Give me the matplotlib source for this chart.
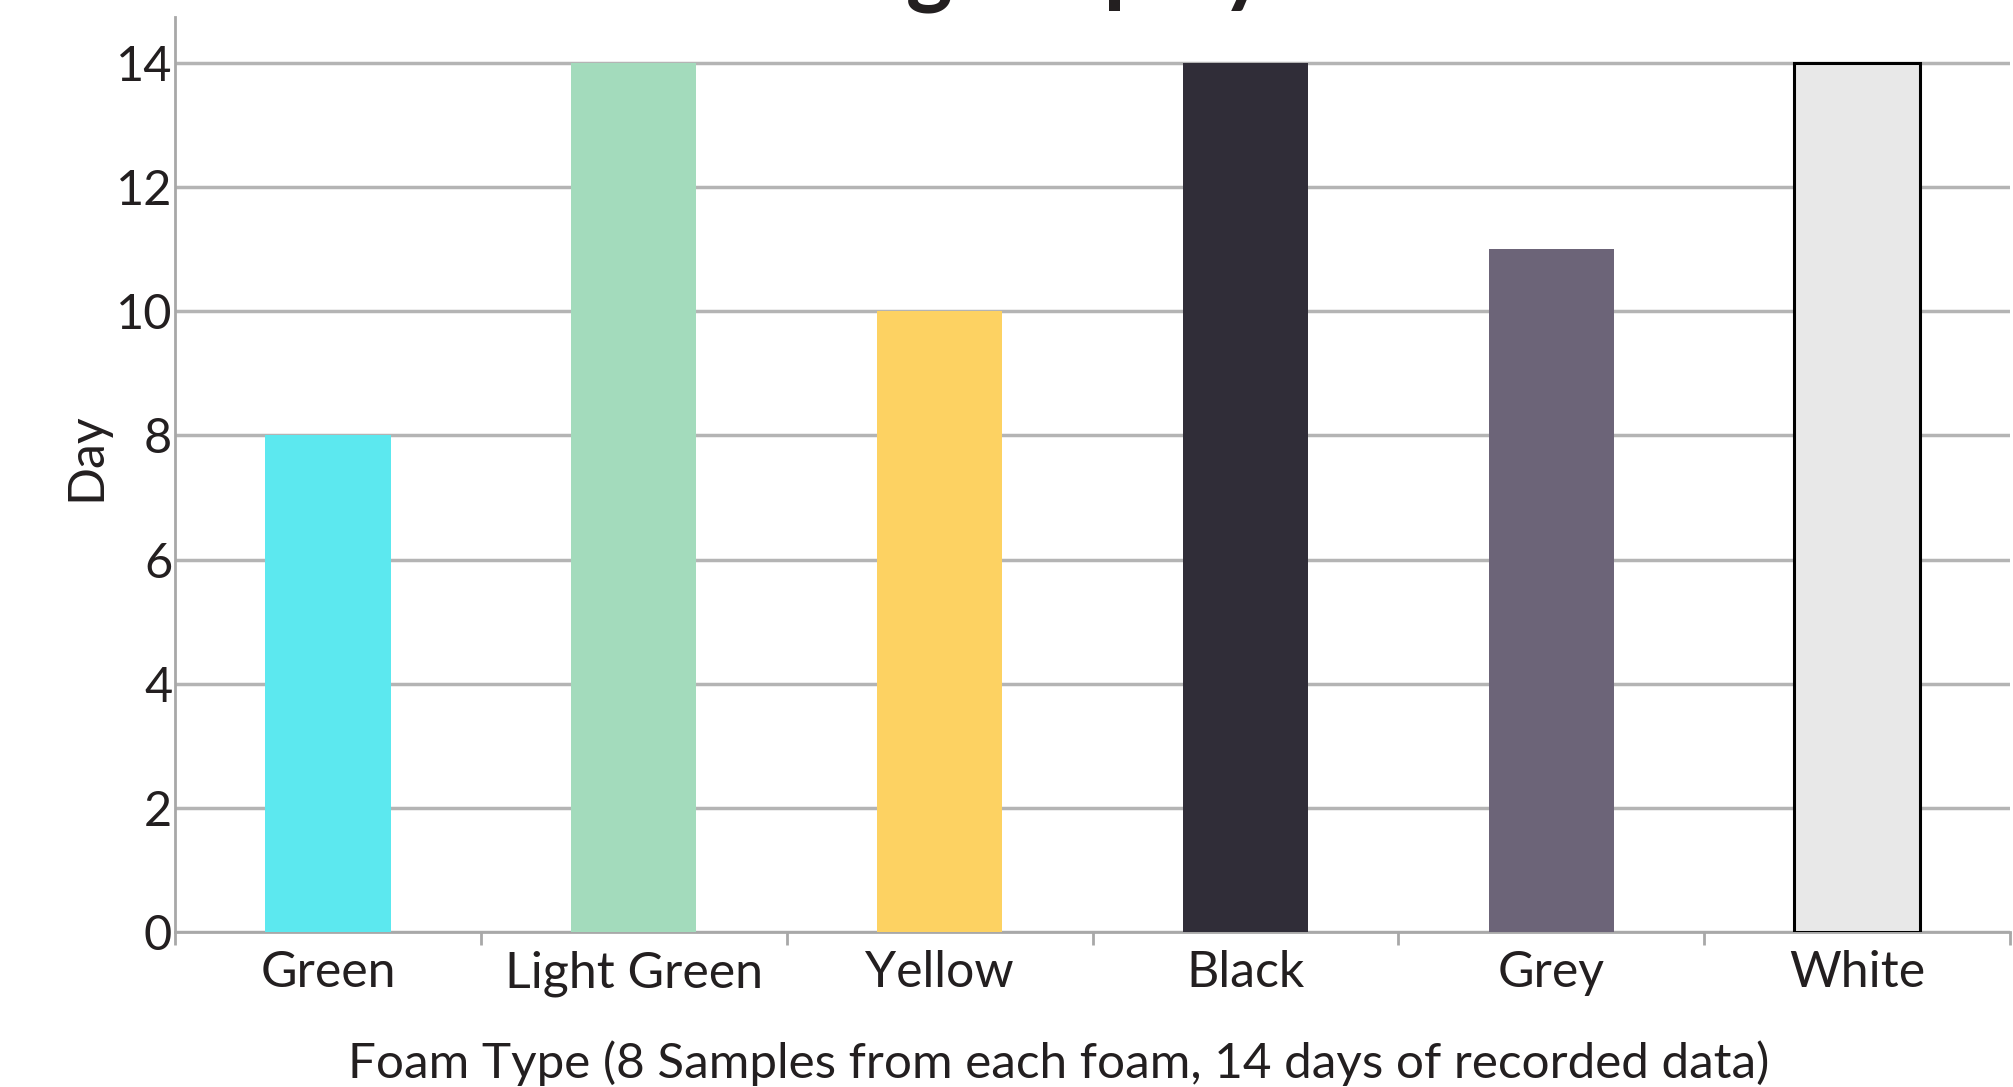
import matplotlib
matplotlib.use("Agg")
import matplotlib.pyplot as plt
import numpy as np

categories = ["Green", "Light Green", "Yellow", "Black", "Grey", "White"]
days = [8, 14, 10, 14, 11, 14]
bar_colors = ["#5ce8ef", "#a3dbbc", "#fdd262", "#302d38", "#6c6478", "#e8e8e8"]
edge_colors = ["none", "none", "none", "none", "none", "#000000"]
yticks = [0, 2, 4, 6, 8, 10, 12, 14]

plt.rcParams['font.family'] = ['Lato', 'DejaVu Sans']

fig = plt.figure(figsize=(20.13, 10.87), dpi=100)
ax = fig.add_axes([175/2013, 1 - 932/1087, (2010-175)/2013, (932-17)/1087])

x = np.arange(len(categories))
ax.bar(x, days, width=0.41, color=bar_colors, edgecolor=edge_colors,
       linewidth=2.2, zorder=3)

ax.set_xlim(-0.5, len(categories) - 0.5)
ax.set_ylim(0, 14.74)
ax.set_yticks(yticks)
ax.set_yticklabels([str(v) for v in yticks], fontsize=35, color="#231f20")
ax.tick_params(axis='y', length=0, pad=2)

ax.set_xticks(x)
ax.set_xticklabels(categories, fontsize=36, color="#231f20")
ax.tick_params(axis='x', length=0, pad=13)
ax.set_xticks(np.arange(len(categories) + 1) - 0.5, minor=True)
ax.tick_params(axis='x', which='minor', length=9, width=2, color="#a8a8a8")

ax.grid(axis='y', color="#b4b4b4", linewidth=2.5, zorder=0)
for s in ["top", "right"]:
    ax.spines[s].set_visible(False)
for s in ["left", "bottom"]:
    ax.spines[s].set_color("#a8a8a8")
    ax.spines[s].set_linewidth(2)

ax.set_ylabel("Day", fontsize=36, color="#231f20")
ax.yaxis.set_label_coords(-0.036, 0.52)
ax.set_xlabel("Foam Type (8 Samples from each foam, 14 days of recorded data)",
              fontsize=35.6, color="#231f20")
ax.xaxis.set_label_coords(0.4815, -0.118)

fig.text(1268/2013, 1.004, "Foam Testing Display", fontsize=64,
         fontweight='bold', color="#231f20", ha='right', va='baseline')

fig.savefig("out.png", dpi=100)
